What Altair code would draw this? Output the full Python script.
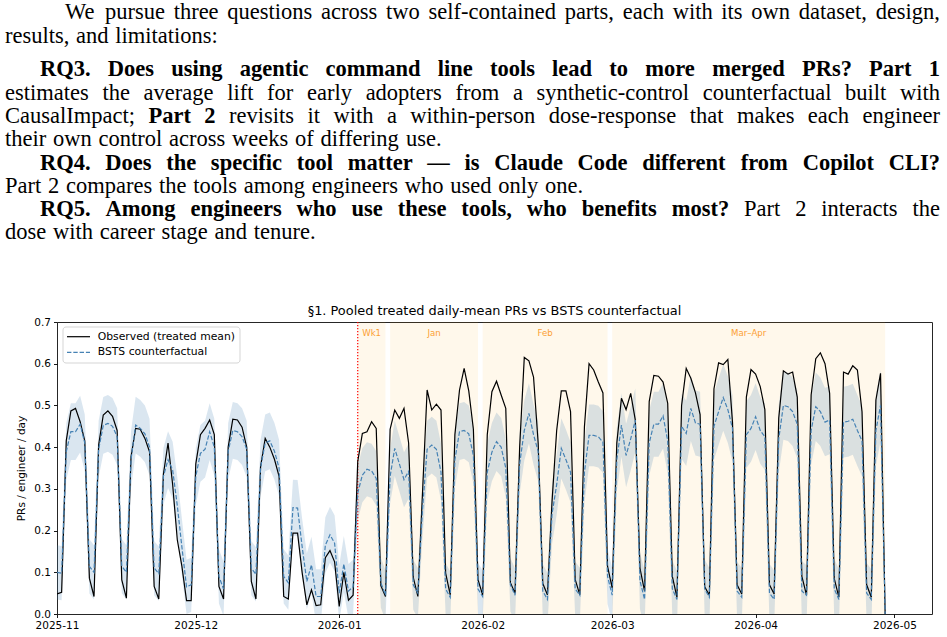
import altair as alt
import pandas as pd

# ---------------------------------------------------------------------------
# Daily series, Saturday 2025-11-01 .. Wednesday 2026-04-29.
# Each row is one Sat..Fri week.
# ---------------------------------------------------------------------------
observed = [
    0.048, 0.052, 0.415, 0.487, 0.493, 0.461, 0.415,
    0.086, 0.042, 0.405, 0.477, 0.487, 0.474, 0.440,
    0.082, 0.038, 0.377, 0.445, 0.443, 0.421, 0.389,
    0.066, 0.036, 0.335, 0.410, 0.310, 0.178, 0.114,
    0.032, 0.032, 0.360, 0.430, 0.445, 0.465, 0.430,
    0.066, 0.036, 0.400, 0.467, 0.465, 0.448, 0.400,
    0.078, 0.036, 0.353, 0.421, 0.400, 0.371, 0.330,
    0.042, 0.036, 0.194, 0.194, 0.098, 0.022, 0.058,
    0.020, 0.022, 0.135, 0.152, 0.125, 0.018, 0.100,
    0.033, 0.045, 0.365, 0.433, 0.437, 0.461, 0.445,
    0.068, 0.042, 0.443, 0.489, 0.469, 0.493, 0.410,
    0.088, 0.042, 0.290, 0.537, 0.489, 0.503, 0.489,
    0.098, 0.046, 0.430, 0.537, 0.589, 0.535, 0.443,
    0.082, 0.046, 0.430, 0.533, 0.558, 0.525, 0.493,
    0.075, 0.050, 0.400, 0.615, 0.607, 0.568, 0.410,
    0.073, 0.046, 0.270, 0.440, 0.535, 0.535, 0.485,
    0.083, 0.046, 0.449, 0.600, 0.585, 0.556, 0.530,
    0.114, 0.062, 0.410, 0.517, 0.490, 0.529, 0.465,
    0.110, 0.055, 0.509, 0.572, 0.570, 0.556, 0.505,
    0.090, 0.040, 0.500, 0.589, 0.565, 0.530, 0.478,
    0.065, 0.045, 0.540, 0.602, 0.598, 0.610, 0.460,
    0.070, 0.048, 0.520, 0.586, 0.575, 0.545, 0.490,
    0.070, 0.048, 0.470, 0.583, 0.575, 0.580, 0.520,
    0.090, 0.045, 0.525, 0.612, 0.626, 0.600, 0.529,
    0.085, 0.040, 0.580, 0.575, 0.595, 0.585, 0.485,
    0.070, 0.040, 0.513, 0.577, 0.000,
]

counterfactual = [
    0.100, 0.098, 0.389, 0.437, 0.437, 0.455, 0.410,
    0.114, 0.100, 0.395, 0.452, 0.457, 0.450, 0.425,
    0.115, 0.100, 0.370, 0.453, 0.445, 0.432, 0.400,
    0.110, 0.097, 0.330, 0.370, 0.345, 0.260, 0.160,
    0.065, 0.070, 0.330, 0.385, 0.395, 0.437, 0.400,
    0.090, 0.060, 0.390, 0.440, 0.437, 0.425, 0.395,
    0.110, 0.095, 0.350, 0.410, 0.415, 0.390, 0.350,
    0.090, 0.075, 0.255, 0.254, 0.160, 0.078, 0.118,
    0.042, 0.042, 0.165, 0.190, 0.170, 0.050, 0.120,
    0.055, 0.065, 0.290, 0.333, 0.347, 0.343, 0.325,
    0.075, 0.045, 0.330, 0.397, 0.360, 0.322, 0.342,
    0.070, 0.050, 0.250, 0.395, 0.405, 0.395, 0.340,
    0.060, 0.040, 0.370, 0.437, 0.440, 0.432, 0.380,
    0.060, 0.042, 0.340, 0.388, 0.413, 0.400, 0.350,
    0.070, 0.045, 0.360, 0.440, 0.481, 0.430, 0.390,
    0.055, 0.035, 0.240, 0.310, 0.397, 0.370, 0.340,
    0.060, 0.045, 0.340, 0.428, 0.428, 0.425, 0.412,
    0.090, 0.045, 0.370, 0.453, 0.380, 0.420, 0.465,
    0.080, 0.035, 0.410, 0.455, 0.455, 0.475, 0.415,
    0.060, 0.035, 0.450, 0.433, 0.493, 0.458, 0.455,
    0.060, 0.040, 0.450, 0.485, 0.519, 0.490, 0.445,
    0.055, 0.040, 0.430, 0.445, 0.473, 0.440, 0.425,
    0.050, 0.035, 0.420, 0.500, 0.497, 0.485, 0.455,
    0.055, 0.045, 0.440, 0.497, 0.485, 0.460, 0.465,
    0.060, 0.035, 0.460, 0.462, 0.467, 0.440, 0.415,
    0.050, 0.035, 0.440, 0.500, 0.000,
]

# half-width of the BSTS 95% interval
ci_half = [
    0.065, 0.065, 0.068, 0.068, 0.068, 0.068, 0.068,
    0.065, 0.065, 0.068, 0.068, 0.068, 0.068, 0.068,
    0.065, 0.065, 0.068, 0.068, 0.068, 0.068, 0.068,
    0.065, 0.065, 0.068, 0.068, 0.068, 0.068, 0.068,
    0.065, 0.065, 0.068, 0.068, 0.068, 0.068, 0.068,
    0.065, 0.065, 0.068, 0.068, 0.068, 0.068, 0.068,
    0.065, 0.065, 0.068, 0.068, 0.068, 0.068, 0.068,
    0.065, 0.065, 0.067, 0.067, 0.067, 0.067, 0.067,
    0.065, 0.065, 0.067, 0.067, 0.067, 0.067, 0.067,
    0.065, 0.065, 0.065, 0.065, 0.065, 0.065, 0.065,
    0.060, 0.060, 0.066, 0.066, 0.066, 0.066, 0.066,
    0.060, 0.060, 0.068, 0.068, 0.068, 0.068, 0.068,
    0.062, 0.062, 0.068, 0.068, 0.068, 0.068, 0.068,
    0.062, 0.062, 0.070, 0.070, 0.070, 0.070, 0.070,
    0.064, 0.064, 0.072, 0.072, 0.072, 0.072, 0.072,
    0.064, 0.064, 0.072, 0.072, 0.072, 0.072, 0.072,
    0.066, 0.066, 0.074, 0.074, 0.074, 0.074, 0.074,
    0.066, 0.066, 0.076, 0.076, 0.076, 0.076, 0.076,
    0.068, 0.068, 0.078, 0.078, 0.078, 0.078, 0.078,
    0.068, 0.068, 0.078, 0.078, 0.078, 0.078, 0.078,
    0.070, 0.070, 0.080, 0.080, 0.080, 0.080, 0.080,
    0.070, 0.070, 0.080, 0.080, 0.080, 0.080, 0.080,
    0.070, 0.070, 0.082, 0.082, 0.082, 0.082, 0.082,
    0.072, 0.072, 0.082, 0.082, 0.082, 0.082, 0.082,
    0.072, 0.072, 0.085, 0.085, 0.085, 0.085, 0.085,
    0.072, 0.072, 0.085, 0.085, 0.050,
]

# analysis windows after the intervention
span_label = ["Wk1", "Jan", "Feb", "Mar\u2013Apr"]
span_start = ["2026-01-05", "2026-01-12", "2026-02-01", "2026-03-01"]
span_end = ["2026-01-11", "2026-01-31", "2026-02-28", "2026-04-29"]
intervention = ["2026-01-05"]

month_ticks = ["2025-11", "2025-12", "2026-01", "2026-02", "2026-03", "2026-04", "2026-05"]
y_ticks = [0.0, 0.1, 0.2, 0.3, 0.4, 0.5, 0.6, 0.7]

legend_labels = ["Observed (treated mean)", "BSTS counterfactual"]
chart_title = "\u00a71. Pooled treated daily-mean PRs vs BSTS counterfactual"
y_title = "PRs / engineer / day"

# paragraph above the figure: (left x, baseline y, justified, [(text, bold), ...])
PARAGRAPH = [
    (65, 19, True, [("We pursue three questions across two self-contained parts, each with its own dataset, design,", False)]),
    (5, 43, False, [("results, and limitations:", False)]),
    (40, 76, True, [("RQ3. Does using agentic command line tools lead to more merged PRs? Part 1", True)]),
    (5, 100, True, [("estimates the average lift for early adopters from a synthetic-control counterfactual built with", False)]),
    (5, 123, True, [("CausalImpact;", False), ("Part 2", True),
                    ("revisits it with a within-person dose-response that makes each engineer", False)]),
    (5, 146, False, [("their own control across weeks of differing use.", False)]),
    (40, 170, True, [("RQ4. Does the specific tool matter \u2014 is Claude Code different from Copilot CLI?", True)]),
    (5, 193, False, [("Part 2 compares the tools among engineers who used only one.", False)]),
    (40, 216, True, [("RQ5. Among engineers who use these tools, who benefits most?", True), ("Part 2 interacts the", False)]),
    (5, 239, False, [("dose with career stage and tenure.", False)]),
]

# ---------------------------------------------------------------------------
# layout constants (page pixels)
# ---------------------------------------------------------------------------
PAGE_W, PAGE_H = 947, 637
PLOT_LEFT, PLOT_TOP = 57, 322
PLOT_W, PLOT_H = 875, 292
TEXT_RIGHT = 940
BODY_SIZE = 22.5
SANS = "DejaVu Sans"
SERIF = "Liberation Serif"
SPAN_TEXT_COLOR = "#fca034"

# Times-compatible advance widths (1/1000 em) for Liberation Serif
_lower = "abcdefghijklmnopqrstuvwxyz"
_upper = "ABCDEFGHIJKLMNOPQRSTUVWXYZ"
ROMAN_W = dict(zip(_lower, [444, 500, 444, 500, 444, 333, 500, 500, 278, 278, 500, 278, 778,
                            500, 500, 500, 500, 333, 389, 278, 500, 500, 722, 500, 500, 444]))
ROMAN_W.update(zip(_upper, [722, 667, 667, 722, 611, 556, 722, 722, 333, 389, 722, 611, 889,
                            722, 722, 556, 722, 667, 556, 611, 722, 722, 944, 722, 722, 611]))
ROMAN_W.update({",": 250, ".": 250, ":": 278, ";": 278, "?": 444, "-": 333, "\u2014": 1000})
BOLD_W = dict(zip(_lower, [500, 556, 444, 556, 444, 333, 500, 556, 278, 333, 556, 278, 833,
                           556, 500, 556, 556, 444, 389, 333, 556, 500, 722, 500, 500, 444]))
BOLD_W.update(zip(_upper, [722, 667, 722, 722, 667, 611, 778, 778, 389, 500, 778, 667, 944,
                           722, 778, 611, 778, 722, 556, 667, 722, 722, 1000, 722, 722, 667]))
BOLD_W.update({",": 250, ".": 250, ":": 333, ";": 333, "?": 500, "-": 333, "\u2014": 1000})


def word_width(word, bold):
    table = BOLD_W if bold else ROMAN_W
    return sum(table.get(ch, 500) for ch in word) * BODY_SIZE / 1000.0


word_rows = []
for x0, base, justified, segments in PARAGRAPH:
    words = [(w, b) for seg, b in segments for w in seg.split(" ")]
    widths = [word_width(w, b) for w, b in words]
    if justified:
        gap = (TEXT_RIGHT - x0 - sum(widths)) / (len(words) - 1)
    else:
        gap = 0.3 * BODY_SIZE
    x = x0
    for (w, b), wd in zip(words, widths):
        word_rows.append({"w": w, "px": x - PLOT_LEFT, "py": base - PLOT_TOP, "bold": b})
        x += wd + gap
words_df = pd.DataFrame(word_rows)

# ---------------------------------------------------------------------------
# data tables
# ---------------------------------------------------------------------------
dates = pd.date_range("2025-11-01", periods=len(observed), freq="D")
series = pd.DataFrame({
    "date": dates.strftime("%Y-%m-%d"),
    "observed": observed,
    "counterfactual": counterfactual,
    "lo": [c - h for c, h in zip(counterfactual, ci_half)],
    "hi": [c + h for c, h in zip(counterfactual, ci_half)],
})

s0 = pd.to_datetime(span_start)
s1 = pd.to_datetime(span_end)
spans = pd.DataFrame({
    "label": span_label,
    "start": span_start,
    "end": span_end,
    "mid": (s0 + (s1 - s0) / 2).strftime("%Y-%m-%dT%H:%M:%SZ"),
})


def utc_dt(text):
    t = pd.Timestamp(text)
    return alt.DateTime(year=t.year, month=t.month, date=t.day, hours=t.hour, utc=True)


x_scale = alt.Scale(type="utc", domain=[utc_dt("2025-11-01"), utc_dt("2026-05-09 03:00")])
y_scale = alt.Scale(domain=[0, 0.7], nice=False, zero=False)

x_axis = alt.Axis(values=[utc_dt(m + "-01") for m in month_ticks], format="%Y-%m", title=None,
                  labelAngle=0, labelFlush=False, labelOverlap=False)
y_axis = alt.Axis(values=y_ticks, format=".1f", title=y_title, labelFlush=False,
                  labelOverlap=False, titlePadding=7)

base = alt.Chart(series)

# --- the data panel -------------------------------------------------------
span_rects = alt.Chart(spans).mark_rect(color="orange", opacity=0.08).encode(
    x=alt.X("start:T", scale=x_scale, axis=x_axis),
    x2="end:T",
)

band = base.mark_area(color="#4682b4", opacity=0.2, clip=True).encode(
    x=alt.X("date:T", scale=x_scale, axis=x_axis),
    y=alt.Y("lo:Q", scale=y_scale, axis=y_axis),
    y2="hi:Q",
)

start_rule = alt.Chart(pd.DataFrame({"date": intervention})).mark_rule(
    color="#ff0000", strokeDash=[1.3, 1.7], strokeWidth=1.2
).encode(x=alt.X("date:T", scale=x_scale, axis=x_axis))

obs_line = base.mark_line(color="black", strokeWidth=1.2, clip=True).encode(
    x=alt.X("date:T", scale=x_scale, axis=x_axis),
    y=alt.Y("observed:Q", scale=y_scale, axis=y_axis),
)

cf_line = base.mark_line(color="#4682b4", strokeWidth=1.2, strokeDash=[4.4, 1.9], clip=True).encode(
    x=alt.X("date:T", scale=x_scale, axis=x_axis),
    y=alt.Y("counterfactual:Q", scale=y_scale, axis=y_axis),
)

span_text = alt.Chart(spans).mark_text(
    font=SANS, fontSize=8.6, color=SPAN_TEXT_COLOR, baseline="middle", align="center"
).encode(
    x=alt.X("mid:T", scale=x_scale, axis=x_axis),
    y=alt.value(11),
    text="label:N",
)

panel = alt.layer(span_rects, band, start_rule, obs_line, cf_line, span_text)

# --- legend, title and the paragraph (pixel positioned) --------------------
one = pd.DataFrame({"k": [0]})
legend_box = alt.Chart(one).mark_rect(
    fill="white", opacity=0.8, stroke="#cccccc", strokeWidth=1, cornerRadius=3
).encode(x=alt.value(6), x2=alt.value(183), y=alt.value(5), y2=alt.value(41))
legend_obs = alt.Chart(one).mark_rule(color="black", strokeWidth=1.2).encode(
    x=alt.value(10), x2=alt.value(33), y=alt.value(14.7))
legend_cf = alt.Chart(one).mark_rule(color="#4682b4", strokeWidth=1.2, strokeDash=[4.4, 1.9]).encode(
    x=alt.value(10), x2=alt.value(33), y=alt.value(30.3))
legend_text = alt.Chart(pd.DataFrame({"t": legend_labels, "yy": [14.7, 30.3]})).mark_text(
    font=SANS, fontSize=10.8, color="black", align="left", baseline="middle"
).encode(
    x=alt.value(40.7),
    y=alt.Y("yy:Q", scale=None, axis=None),
    text="t:N",
)

title_text = alt.Chart(one).mark_text(
    font=SANS, fontSize=12.9, color="black", align="center", baseline="middle", text=chart_title
).encode(x=alt.value(PLOT_W / 2), y=alt.value(-11))

para_regular = alt.Chart(words_df[~words_df["bold"]]).mark_text(
    font=SERIF, fontSize=BODY_SIZE, color="black", align="left", baseline="alphabetic"
).encode(
    x=alt.X("px:Q", scale=None, axis=None),
    y=alt.Y("py:Q", scale=None, axis=None),
    text="w:N",
)
para_bold = alt.Chart(words_df[words_df["bold"]]).mark_text(
    font=SERIF, fontSize=BODY_SIZE, fontWeight="bold", color="black", align="left", baseline="alphabetic"
).encode(
    x=alt.X("px:Q", scale=None, axis=None),
    y=alt.Y("py:Q", scale=None, axis=None),
    text="w:N",
)

overlay = alt.layer(legend_box, legend_obs, legend_cf, legend_text, title_text, para_regular, para_bold)

chart = alt.layer(panel, overlay).resolve_scale(
    x="independent", y="independent"
).properties(
    width=PLOT_W,
    height=PLOT_H,
    autosize=alt.AutoSizeParams(type="none"),
    padding={"left": PLOT_LEFT, "top": PLOT_TOP,
             "right": PAGE_W - PLOT_LEFT - PLOT_W, "bottom": PAGE_H - PLOT_TOP - PLOT_H},
    background="white",
).configure_view(
    stroke="#262626", strokeWidth=1
).configure_axis(
    labelFont=SANS, titleFont=SANS, labelFontSize=10.5, titleFontSize=10.5,
    titleFontWeight="normal", labelColor="black", titleColor="black",
    tickColor="black", tickWidth=0.9, tickSize=3.5, labelPadding=3,
    domain=False, grid=False,
)

chart.save("out.html", embed_options={"renderer": "svg", "actions": False})
